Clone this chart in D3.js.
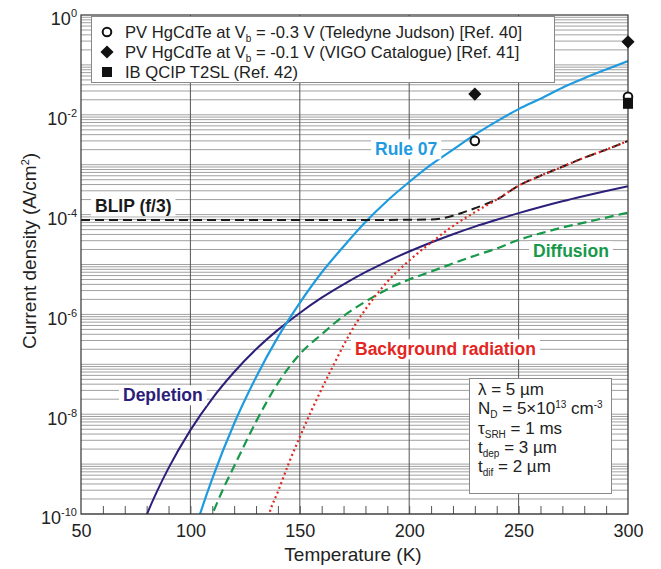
<!DOCTYPE html>
<html>
<head>
<meta charset="utf-8">
<script src="https://cdn.jsdelivr.net/npm/d3@7"></script>
<style>
  body { margin: 0; background: #fff; }
  svg { display: block; font-family: Arial, "Liberation Sans", sans-serif; }
</style>
</head>
<body>
<div id="chart"></div>
<script>
// Curve values (temperature in K, current density in A/cm2)
const rule07T = [100, 105, 110, 120, 130, 140, 150, 160, 170, 180, 190, 200, 210, 220, 230, 240, 250, 260, 270, 280, 290, 300];
const rule07J = [2.45e-11, 1.2e-10, 5.1e-10, 6.5e-9, 5.5e-8, 3.5e-7, 1.7e-6, 6.9e-6, 2.3e-5, 7.1e-5, 1.9e-4, 4.5e-4, 1.0e-3, 2.0e-3, 4.0e-3, 7.4e-3, 1.3e-2, 2.1e-2, 3.5e-2, 5.4e-2, 8.1e-2, 1.2e-1];

const depletionT = [78, 80, 85, 90, 100, 110, 120, 130, 140, 150, 160, 170, 180, 190, 200, 210, 220, 230, 240, 250, 260, 270, 280, 290, 300];
const depletionJ = [5.5e-11, 9.5e-11, 3.0e-10, 8.3e-10, 4.8e-9, 2.06e-8, 7.0e-8, 2.0e-7, 4.9e-7, 1.07e-6, 2.16e-6, 4.0e-6, 7.0e-6, 1.16e-5, 1.82e-5, 2.76e-5, 4.05e-5, 5.75e-5, 7.9e-5, 1.07e-4, 1.42e-4, 1.85e-4, 2.36e-4, 2.97e-4, 3.7e-4];

const diffusionT = [108, 110, 115, 120, 130, 140, 150, 160, 170, 180, 190, 200, 210, 220, 230, 240, 250, 260, 270, 280, 290, 300];
const diffusionJ = [6.5e-11, 1.0e-10, 3.2e-10, 9.1e-10, 7.1e-9, 4.2e-8, 1.6e-7, 4.0e-7, 9.3e-7, 1.8e-6, 3.2e-6, 5.0e-6, 7.2e-6, 1.05e-5, 1.5e-5, 2.1e-5, 3.1e-5, 4.2e-5, 5.5e-5, 6.9e-5, 8.7e-5, 1.1e-4];

const backgroundT = [134, 136, 140, 145, 150, 155, 160, 165, 170, 175, 180, 190, 200, 210, 220, 230, 240, 250, 260, 270, 280, 290, 300];
const backgroundJ = [4.5e-11, 1.0e-10, 2.8e-10, 1.05e-9, 3.5e-9, 1.1e-8, 3.2e-8, 8.9e-8, 2.4e-7, 5.9e-7, 1.26e-6, 4.5e-6, 1.2e-5, 2.75e-5, 5.9e-5, 1.12e-4, 2.0e-4, 3.8e-4, 6.0e-4, 9.1e-4, 1.38e-3, 2.0e-3, 3.0e-3];

const blipT = [50, 100, 150, 200, 210, 215, 220, 225, 230, 235, 240, 250, 260, 270, 280, 290, 300];
const blipJ = [7.8e-5, 7.8e-5, 7.8e-5, 7.85e-5, 8.0e-5, 8.4e-5, 9.5e-5, 1.12e-4, 1.34e-4, 1.62e-4, 2.0e-4, 3.8e-4, 6.0e-4, 9.1e-4, 1.38e-3, 2.0e-3, 3.0e-3];

// Measured detectors
const circlePoints = [[230, 3.0e-3], [300, 2.3e-2]];
const diamondPoints = [[230, 2.6e-2], [300, 0.29]];
const squarePoints = [[300, 1.7e-2]];

const xTicks = [50, 100, 150, 200, 250, 300];
const yTickExps = [0, -2, -4, -6, -8, -10];

function draw() {
  const dimensions = {
    width: 661,
    height: 569,
    margin: { top: 15, right: 33, bottom: 55, left: 81 },
  };
  dimensions.innerWidth = dimensions.width - dimensions.margin.left - dimensions.margin.right;
  dimensions.innerHeight = dimensions.height - dimensions.margin.top - dimensions.margin.bottom;

  const svg = d3
    .select("#chart")
    .append("svg")
    .attr("width", dimensions.width)
    .attr("height", dimensions.height);

  const graph = svg
    .append("g")
    .attr("transform", `translate(${dimensions.margin.left}, ${dimensions.margin.top})`);

  const xScale = d3.scaleLinear().domain([50, 300]).range([0, dimensions.innerWidth]);
  const yScale = d3.scaleLog().domain([1e-10, 1]).range([dimensions.innerHeight, 0]);

  // log grid lines (1..9 per decade)
  const minorVals = [];
  for (let e = -10; e < 0; e++) {
    for (let k = 1; k <= 9; k++) minorVals.push(k * Math.pow(10, e));
  }
  graph
    .append("g")
    .selectAll("line")
    .data(minorVals)
    .join("line")
    .attr("x1", 0)
    .attr("x2", dimensions.innerWidth)
    .attr("y1", (d) => yScale(d))
    .attr("y2", (d) => yScale(d))
    .attr("stroke", "#a0a0a0")
    .attr("stroke-width", 1);

  // vertical grid lines every 50 K
  graph
    .append("g")
    .selectAll("line")
    .data([100, 150, 200, 250])
    .join("line")
    .attr("x1", (d) => xScale(d))
    .attr("x2", (d) => xScale(d))
    .attr("y1", 0)
    .attr("y2", dimensions.innerHeight)
    .attr("stroke", "#555")
    .attr("stroke-width", 1);

  // minor ticks on the bottom axis, pointing inward
  graph
    .append("g")
    .attr("transform", `translate(0, ${dimensions.innerHeight})`)
    .call(d3.axisBottom(xScale).tickValues(d3.range(60, 300, 10)).tickSize(-8).tickFormat(""))
    .call((g) => g.select(".domain").remove())
    .call((g) => g.selectAll(".tick line").attr("stroke", "#555"));

  // x axis labels
  graph
    .append("g")
    .attr("transform", `translate(0, ${dimensions.innerHeight})`)
    .call(d3.axisBottom(xScale).tickValues(xTicks).tickSize(0).tickPadding(10))
    .call((g) => g.select(".domain").remove())
    .call((g) =>
      g.selectAll(".tick text")
        .attr("font-size", 18)
        .attr("font-family", "Arial, 'Liberation Sans', sans-serif")
        .attr("fill", "#222")
    );

  // y axis labels 10^n
  const yAxis = graph
    .append("g")
    .call(
      d3.axisLeft(yScale)
        .tickValues(yTickExps.map((e) => Math.pow(10, e)))
        .tickSize(0)
        .tickPadding(4)
        .tickFormat(() => "")
    );
  yAxis.select(".domain").remove();
  yAxis
    .selectAll(".tick text")
    .attr("font-size", 18)
    .attr("font-family", "Arial, 'Liberation Sans', sans-serif")
    .attr("fill", "#222")
    .attr("dy", "0.55em")
    .each(function (d) {
      const t = d3.select(this);
      t.text("10");
      t.append("tspan")
        .attr("dy", -8)
        .attr("font-size", 11)
        .text(Math.round(Math.log10(d)));
    });

  // curve labels with white boxes
  const labels = [
    { text: "Rule 07", x: 375, y: 149, color: "#1e9be0" },
    { text: "BLIP (f/3)", x: 95, y: 206, color: "#1a1a1a" },
    { text: "Diffusion", x: 533, y: 251, color: "#17984a" },
    { text: "Background radiation", x: 355, y: 349, color: "#e3261f" },
    { text: "Depletion", x: 123, y: 395, color: "#2b2079" },
  ];
  const labelGroup = svg.append("g");
  labels.forEach((l) => {
    const g = labelGroup.append("g");
    const rect = g.append("rect").attr("fill", "#fff");
    const txt = g
      .append("text")
      .attr("x", l.x)
      .attr("y", l.y)
      .attr("dy", "0.36em")
      .attr("font-size", 17.5)
      .attr("font-weight", "bold")
      .attr("fill", l.color)
      .text(l.text);
    const bb = txt.node().getBBox();
    rect
      .attr("x", bb.x - 4)
      .attr("y", bb.y)
      .attr("width", bb.width + 8)
      .attr("height", bb.height);
  });

  // clip for curves
  svg
    .append("clipPath")
    .attr("id", "clip")
    .append("rect")
    .attr("width", dimensions.innerWidth)
    .attr("height", dimensions.innerHeight);

  const curves = graph.append("g").attr("clip-path", "url(#clip)");

  const line = d3
    .line()
    .x((d) => xScale(d[0]))
    .y((d) => yScale(d[1]))
    .curve(d3.curveMonotoneX);

  const series = [
    { t: depletionT, j: depletionJ, color: "#2b2079", dash: null, width: 2 },
    { t: diffusionT, j: diffusionJ, color: "#17984a", dash: "9,5", width: 2.2 },
    { t: rule07T, j: rule07J, color: "#1e9be0", dash: null, width: 2.2 },
    { t: blipT, j: blipJ, color: "#1a1a1a", dash: "9,5", width: 2 },
    { t: backgroundT, j: backgroundJ, color: "#e3261f", dash: "2,3", width: 2.2 },
  ];
  series.forEach((s) => {
    curves
      .append("path")
      .datum(s.t.map((t, i) => [t, s.j[i]]))
      .attr("d", line)
      .attr("fill", "none")
      .attr("stroke", s.color)
      .attr("stroke-width", s.width)
      .attr("stroke-dasharray", s.dash);
  });

  // plot frame
  graph
    .append("rect")
    .attr("width", dimensions.innerWidth)
    .attr("height", dimensions.innerHeight)
    .attr("fill", "none")
    .attr("stroke", "#333")
    .attr("stroke-width", 1.2);

  // measured points
  const marks = graph.append("g");
  marks
    .selectAll("circle")
    .data(circlePoints)
    .join("circle")
    .attr("cx", (d) => xScale(d[0]))
    .attr("cy", (d) => yScale(d[1]))
    .attr("r", 4.3)
    .attr("fill", "#fff")
    .attr("stroke", "#111")
    .attr("stroke-width", 2);
  marks
    .selectAll("path.diamond")
    .data(diamondPoints)
    .join("path")
    .attr("class", "diamond")
    .attr("d", d3.symbol(d3.symbolDiamond2, 110))
    .attr("transform", (d) => `translate(${xScale(d[0])}, ${yScale(d[1])})`)
    .attr("fill", "#111");
  marks
    .selectAll("rect.square")
    .data(squarePoints)
    .join("rect")
    .attr("class", "square")
    .attr("x", (d) => xScale(d[0]) - 5)
    .attr("y", (d) => yScale(d[1]) - 5.5)
    .attr("width", 10)
    .attr("height", 11)
    .attr("fill", "#111");

  // legend
  const legend = svg.append("g");
  legend
    .append("rect")
    .attr("x", 91.5)
    .attr("y", 16.5)
    .attr("width", 463)
    .attr("height", 66)
    .attr("fill", "#fff")
    .attr("stroke", "#888")
    .attr("stroke-width", 1);

  const legendRows = [
    { sym: "circle", y: 32, parts: ["PV HgCdTe at V", "b", " = -0.3 V (Teledyne Judson) [Ref. 40]"] },
    { sym: "diamond", y: 52, parts: ["PV HgCdTe at V", "b", " = -0.1 V (VIGO Catalogue) [Ref. 41]"] },
    { sym: "square", y: 72, parts: ["IB QCIP T2SL (Ref. 42)"] },
  ];
  legendRows.forEach((r) => {
    if (r.sym === "circle") {
      legend.append("circle").attr("cx", 107).attr("cy", r.y).attr("r", 4.3)
        .attr("fill", "#fff").attr("stroke", "#111").attr("stroke-width", 2);
    } else if (r.sym === "diamond") {
      legend.append("path").attr("d", d3.symbol(d3.symbolDiamond2, 110))
        .attr("transform", `translate(107, ${r.y})`).attr("fill", "#111");
    } else {
      legend.append("rect").attr("x", 102).attr("y", r.y - 5).attr("width", 10).attr("height", 10)
        .attr("fill", "#111");
    }
    const t = legend.append("text").attr("x", 125).attr("y", r.y).attr("dy", "0.36em")
      .attr("font-size", 16.6).attr("fill", "#222");
    t.append("tspan").text(r.parts[0]);
    if (r.parts.length > 1) {
      t.append("tspan").attr("dy", 4).attr("font-size", 10).text(r.parts[1]);
      t.append("tspan").attr("dy", -4).text(r.parts[2]);
    }
  });

  // parameter box
  const info = svg.append("g");
  info
    .append("rect")
    .attr("x", 469.5)
    .attr("y", 378.5)
    .attr("width", 142)
    .attr("height", 115)
    .attr("fill", "#fff")
    .attr("stroke", "#888");

  const infoRows = [
    { y: 395, parts: [["λ = 5 µm", 0]] },
    { y: 414, parts: [["N", 0], ["D", 4], [" = 5×10", -4], ["13", -6], [" cm", 6], ["-3", -6]] },
    { y: 434, parts: [["τ", 0], ["SRH", 4], [" = 1 ms", -4]] },
    { y: 453, parts: [["t", 0], ["dep", 4], [" = 3 µm", -4]] },
    { y: 472, parts: [["t", 0], ["dif", 4], [" = 2 µm", -4]] },
  ];
  const smallParts = new Set(["D", "13", "-3", "SRH", "dep", "dif"]);
  infoRows.forEach((r) => {
    const t = info.append("text").attr("x", 478).attr("y", r.y).attr("dy", "0.36em")
      .attr("font-size", 17).attr("fill", "#222");
    r.parts.forEach((p) => {
      t.append("tspan")
        .attr("dy", p[1])
        .attr("font-size", smallParts.has(p[0]) ? 10 : 17)
        .text(p[0]);
    });
  });

  // axis titles
  svg
    .append("text")
    .attr("x", 353)
    .attr("y", 554)
    .attr("dy", "0.36em")
    .attr("text-anchor", "middle")
    .attr("font-size", 19)
    .attr("fill", "#222")
    .text("Temperature (K)");

  const yTitle = svg
    .append("text")
    .attr("transform", "translate(29, 251) rotate(-90)")
    .attr("text-anchor", "middle")
    .attr("dy", "0.36em")
    .attr("font-size", 19)
    .attr("fill", "#222");
  yTitle.append("tspan").text("Current density (A/cm");
  yTitle.append("tspan").attr("dy", -7).attr("font-size", 11).text("2");
  yTitle.append("tspan").attr("dy", 7).text(")");
}

draw();
</script>
</body>
</html>
